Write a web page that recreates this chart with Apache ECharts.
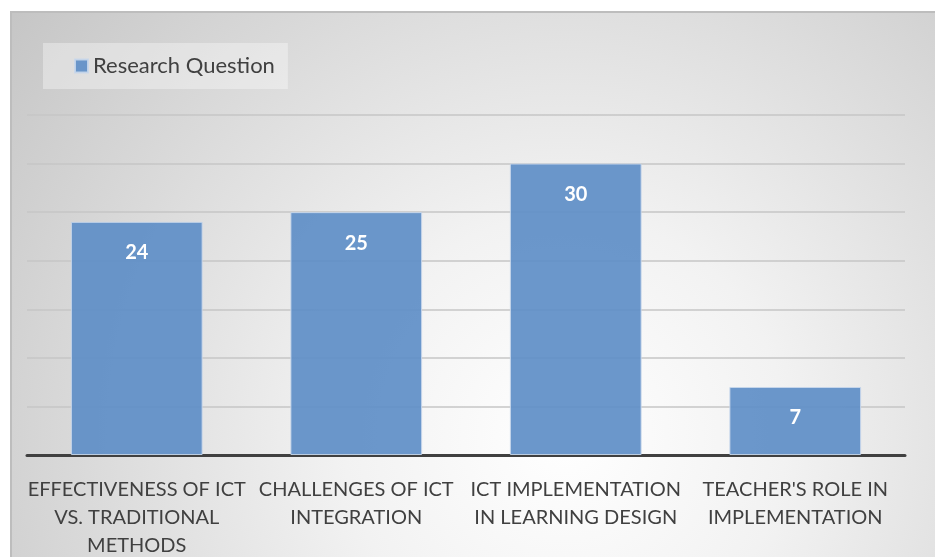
<!DOCTYPE html>
<html><head><meta charset="utf-8">
<script src="https://cdn.jsdelivr.net/npm/echarts@6/dist/echarts.min.js"></script>
<style>html,body{margin:0;padding:0;background:#fff}#c{width:935px;height:557px}</style>
</head><body><div id="c"></div>
<script>
const categories = ["EFFECTIVENESS OF ICT\nVS. TRADITIONAL\nMETHODS", "CHALLENGES OF ICT\nINTEGRATION", "ICT IMPLEMENTATION\nIN LEARNING DESIGN", "TEACHER'S ROLE IN\nIMPLEMENTATION"];
const seriesName = "Research Question";
const values = [24, 25, 30, 7];
const chart = echarts.init(document.getElementById('c'));
const FONT = 'Lato';
chart.setOption({
  backgroundColor: '#fff',
  animation: false,
  graphic: [{
    type: 'rect', z: -10, silent: true,
    shape: {x: 10, y: 11, width: 925, height: 546},
    style: {
      fill: {type: 'radial', x: 0.6, y: 0.78, r: 1.35, colorStops: [
        {offset: 0, color: '#ffffff'}, {offset: 0.3, color: '#f2f2f2'}, {offset: 1, color: '#c2c2c2'}]},
      stroke: null
    }
  }, {
    type: 'polyline', z: -9, silent: true,
    shape: {points: [[11, 557], [11, 12], [935, 12]]},
    style: {stroke: '#bdbdbd', lineWidth: 2, fill: null}
  }],
  legend: {
    left: 43, top: 43,
    data: [seriesName],
    backgroundColor: 'rgba(255,255,255,0.35)',
    padding: [12, 13, 12, 31],
    itemWidth: 13, itemHeight: 13, itemGap: 6,
    icon: 'rect',
    textStyle: {fontFamily: FONT, fontSize: 22, color: '#404040', padding: [0, 0, 0, 0]}
  },
  grid: {left: 27, right: 30, top: 115, bottom: 102, containLabel: false, outerBoundsMode: 'none'},
  xAxis: {
    type: 'category', data: categories,
    axisLine: {lineStyle: {color: '#404040', width: 3}},
    axisTick: {show: false},
    axisLabel: {interval: 0, fontFamily: FONT, fontSize: 20, color: '#404040', lineHeight: 28, margin: 21}
  },
  yAxis: {
    type: 'value', min: 0, max: 35, interval: 5,
    axisLabel: {show: false}, axisLine: {show: false}, axisTick: {show: false},
    splitLine: {lineStyle: {color: '#c6c6c6', width: 1.5}}
  },
  series: [{
    name: seriesName, type: 'bar', data: values, barWidth: '60%',
    itemStyle: {color: 'rgba(94,142,199,0.92)', borderColor: 'rgba(200,215,235,0.9)', borderWidth: 1},
    label: {show: true, position: 'insideTop', distance: 21, color: '#fff', fontFamily: FONT, fontWeight: 'bold', fontSize: 20}
  }]
});
</script></body></html>
